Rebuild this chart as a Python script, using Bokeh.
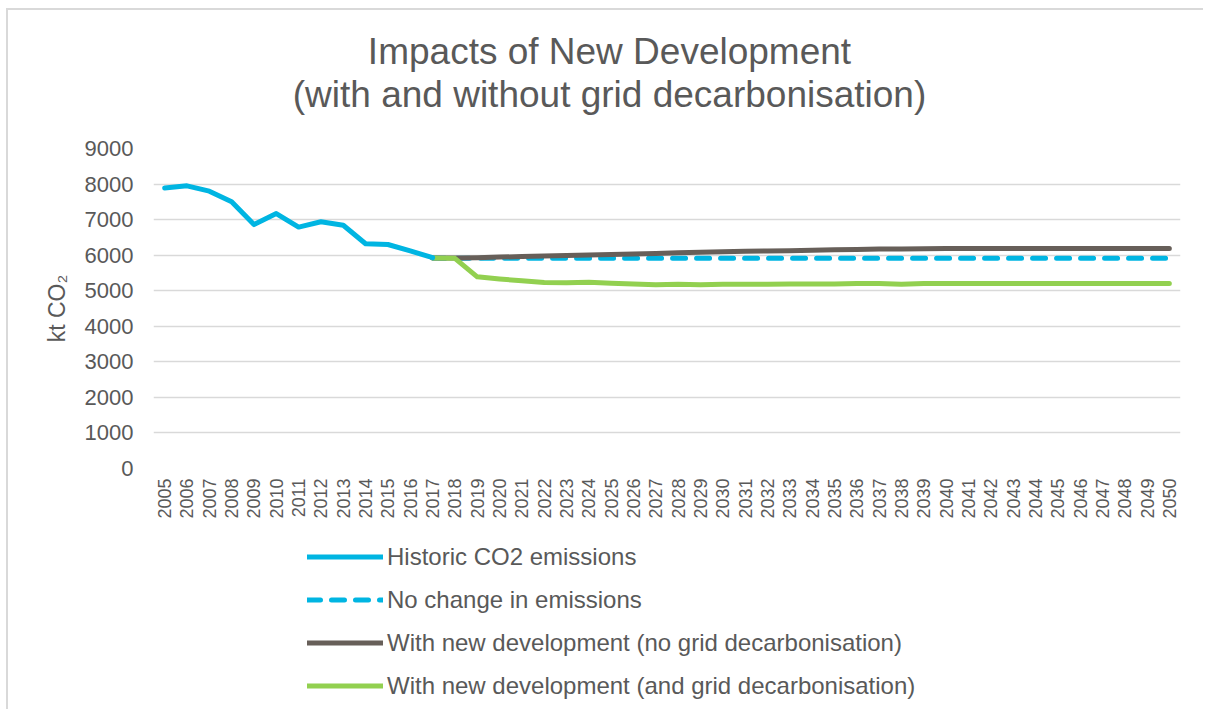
import math
from bokeh.plotting import figure
from bokeh.layouts import column
from bokeh.models import (ColumnDataSource, FactorRange, Range1d, FixedTicker,
                          Label, Legend, LegendItem)
from bokeh.embed import file_html
from bokeh.resources import INLINE

# ---------------- data ----------------
years = [str(y) for y in range(2005, 2051)]

hist_years = [str(y) for y in range(2005, 2018)]
historic = [7890, 7950, 7800, 7500, 6860, 7170, 6790, 6940, 6840, 6320, 6300, 6120, 5930]

proj_years = [str(y) for y in range(2017, 2051)]
no_change = [5920] + [5910] * 33
with_dev_no_grid = [5920, 5920, 5930, 5945, 5960, 5975, 5990, 6005, 6020, 6035,
                    6050, 6065, 6080, 6095, 6110, 6115, 6125, 6135, 6150, 6160,
                    6170, 6175, 6180, 6190, 6190, 6190, 6190, 6190, 6190, 6190,
                    6190, 6190, 6190, 6190]
with_dev_grid = [5920, 5910, 5390, 5330, 5280, 5230, 5225, 5240, 5210, 5190,
                 5170, 5180, 5170, 5180, 5185, 5185, 5190, 5190, 5190, 5200,
                 5200, 5180, 5200, 5200, 5200, 5200, 5200, 5200, 5200, 5200,
                 5200, 5200, 5200, 5200]

y_ticks = [0, 1000, 2000, 3000, 4000, 5000, 6000, 7000, 8000, 9000]

series_labels = ["Historic CO2 emissions", "No change in emissions",
                 "With new development (no grid decarbonisation)",
                 "With new development (and grid decarbonisation)"]
title_lines = ["Impacts of New Development", "(with and without grid decarbonisation)"]
y_label = "kt CO\u2082"

# ---------------- styles ----------------
BLUE = "#00B5E2"
GREY = "#675F59"
GREEN = "#92D050"
TEXT = "#595959"
GRID = "#D9D9D9"
FONT = "Liberation Sans"
W = 1195
BL, BR = 145, 23   # shared left/right borders so the frames line up


def strip(height):
    fig = figure(width=W, height=height, output_backend="svg", toolbar_location=None,
                 x_axis_location=None, y_axis_location=None,
                 x_range=Range1d(0, 1), y_range=Range1d(0, 1),
                 min_border_left=BL, min_border_right=BR,
                 min_border_top=0, min_border_bottom=0)
    fig.outline_line_color = None
    fig.background_fill_color = "white"
    fig.border_fill_color = "white"
    fig.xgrid.visible = False
    fig.ygrid.visible = False
    return fig


# ---------------- title strip ----------------
pt = strip(110)
for txt, yy in zip(title_lines, [69, 26]):
    pt.add_layout(Label(x=456, y=yy, x_units="screen", y_units="screen", text=txt,
                        text_align="center", text_baseline="alphabetic",
                        text_font=FONT, text_font_size="37px", text_color=TEXT))

# ---------------- chart ----------------
p = figure(width=W, height=410, output_backend="svg", toolbar_location=None,
           x_range=FactorRange(*years, range_padding=0),
           y_range=Range1d(0, 9000),
           min_border_left=BL, min_border_right=BR, min_border_top=28,
           min_border_bottom=62)
p.outline_line_color = None
p.background_fill_color = "white"
p.border_fill_color = "white"

p.xgrid.grid_line_color = None
p.ygrid.grid_line_color = GRID
p.ygrid.grid_line_width = 1.5

p.yaxis.ticker = FixedTicker(ticks=y_ticks)
p.yaxis.axis_line_color = None
p.yaxis.major_tick_line_color = None
p.yaxis.minor_tick_line_color = None
p.yaxis.major_tick_out = 0
p.yaxis.major_tick_in = 0
p.yaxis.major_label_standoff = 20
p.yaxis.major_label_text_font = FONT
p.yaxis.major_label_text_font_size = "22px"
p.yaxis.major_label_text_color = TEXT
p.yaxis.axis_label = y_label
p.yaxis.axis_label_text_font = FONT
p.yaxis.axis_label_text_font_size = "23px"
p.yaxis.axis_label_text_font_style = "normal"
p.yaxis.axis_label_text_color = TEXT
p.yaxis.axis_label_standoff = 12

p.xaxis.axis_line_color = None
p.xaxis.major_tick_line_color = None
p.xaxis.major_tick_out = 0
p.xaxis.major_tick_in = 0
p.xaxis.major_label_standoff = 10
p.xaxis.major_label_orientation = math.pi / 2
p.xaxis.major_label_text_font = FONT
p.xaxis.major_label_text_font_size = "18px"
p.xaxis.major_label_text_color = TEXT

src_hist = ColumnDataSource(dict(x=hist_years, y=historic))
src_nc = ColumnDataSource(dict(x=proj_years, y=no_change))
src_ng = ColumnDataSource(dict(x=proj_years, y=with_dev_no_grid))
src_g = ColumnDataSource(dict(x=proj_years, y=with_dev_grid))

styles = [dict(line_color=BLUE, line_width=5, line_join="round", line_cap="round"),
          dict(line_color=BLUE, line_width=5, line_dash="13 11", line_cap="round"),
          dict(line_color=GREY, line_width=5, line_join="round", line_cap="round"),
          dict(line_color=GREEN, line_width=5, line_join="round", line_cap="round")]

p.line("x", "y", source=src_nc, **styles[1])
p.line("x", "y", source=src_ng, **styles[2])
p.line("x", "y", source=src_g, **styles[3])
p.line("x", "y", source=src_hist, **styles[0])

# ---------------- legend strip ----------------
pl = strip(179)
items = []
for lab, st in zip(series_labels, styles):
    # a single NaN point: nothing is drawn, but the legend swatch gets the style
    r = pl.line(x=[float("nan")], y=[float("nan")], **st)
    items.append(LegendItem(label=lab, renderers=[r]))

legend = Legend(items=items, location=(154, 9), orientation="vertical")
legend.padding = 0
legend.margin = 0
legend.border_line_color = None
legend.background_fill_alpha = 0
legend.glyph_width = 76
legend.glyph_height = 29
legend.label_height = 29
legend.spacing = 14
legend.label_standoff = 4
legend.label_text_font = FONT
legend.label_text_font_size = "24px"
legend.label_text_color = TEXT
pl.add_layout(legend, "center")

layout = column(pt, p, pl, spacing=0,
                styles={"margin-left": "6px", "margin-top": "8px",
                        "border-left": "2px solid #D9D9D9",
                        "border-top": "2px solid #D9D9D9"})

open("out.html", "w").write(file_html(layout, INLINE))
